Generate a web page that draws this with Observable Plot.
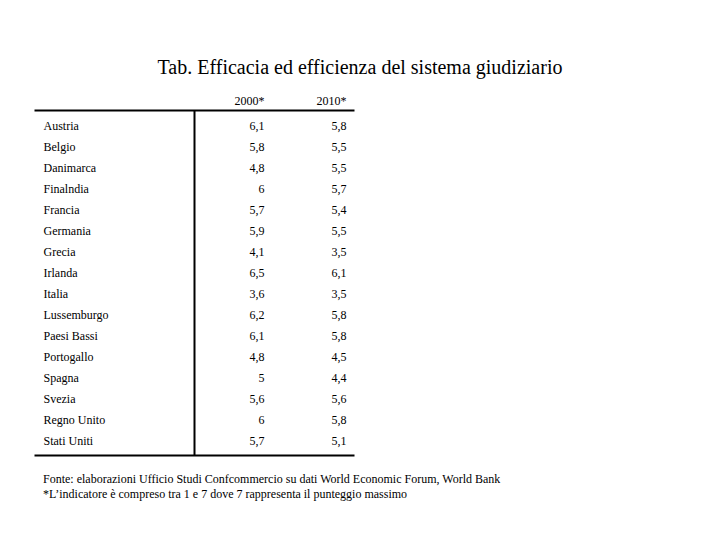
<!DOCTYPE html>
<html><head><meta charset="utf-8">
<script src="https://cdn.jsdelivr.net/npm/d3@7"></script>
<script src="https://cdn.jsdelivr.net/npm/@observablehq/plot@0.6"></script>
<style>
body{margin:0;background:#fff;font-family:"Liberation Serif","Times New Roman",serif;color:#000}
#title{height:33px;padding-top:55px;font-size:20px;line-height:24px;text-align:center}
#foot{padding-top:4px;padding-left:43px;font-size:12px;line-height:15px}
#chart svg{display:block}
</style></head><body>
<div id="title">Tab. Efficacia ed efficienza del sistema giudiziario</div>
<div id="chart"></div>
<div id="foot">Fonte: elaborazioni Ufficio Studi Confcommercio su dati World Economic Forum, World Bank<br>*L’indicatore è compreso tra 1 e 7 dove 7 rappresenta il punteggio massimo</div>
<script>
const countries = ["Austria","Belgio","Danimarca","Finalndia","Francia","Germania","Grecia","Irlanda","Italia","Lussemburgo","Paesi Bassi","Portogallo","Spagna","Svezia","Regno Unito","Stati Uniti"];
const values2000 = [6.1, 5.8, 4.8, 6, 5.7, 5.9, 4.1, 6.5, 3.6, 6.2, 6.1, 4.8, 5, 5.6, 6, 5.7];
const values2010 = [5.8, 5.5, 5.5, 5.7, 5.4, 5.5, 3.5, 6.1, 3.5, 5.8, 5.8, 4.5, 4.4, 5.6, 5.8, 5.1];
const columns = ["2000*", "2010*"];

const rows = countries.flatMap((c, i) => [
  {country: c, col: columns[0], value: values2000[i]},
  {country: c, col: columns[1], value: values2010[i]}
]);
const fmt = v => String(v).replace(".", ",");

const chart = Plot.plot({
  width: 720, height: 380,
  marginTop: 22, marginBottom: 13, marginLeft: 35, marginRight: 367,
  style: {fontFamily: "Liberation Serif", fontSize: "12px", color: "#000", background: "#fff"},
  x: {type: "point", domain: columns, range: [264, 346], padding: 0, axis: null},
  y: {type: "band", domain: countries, padding: 0, axis: null},
  marks: [
    Plot.frame({anchor: "top", strokeWidth: 2, stroke: "#000"}),
    Plot.frame({anchor: "bottom", strokeWidth: 2, stroke: "#000"}),
    Plot.ruleX([null], {x: null, strokeWidth: 2, stroke: "#000"}),
    Plot.text(columns, {x: d => d, frameAnchor: "top", lineAnchor: "middle", dy: -9, textAnchor: "end", fill: "#000"}),
    Plot.text(countries, {y: d => d, frameAnchor: "left", dx: 8, textAnchor: "start", fill: "#000"}),
    Plot.text(rows, {x: "col", y: "country", text: d => fmt(d.value), textAnchor: "end", fill: "#000"})
  ]
});
document.getElementById("chart").appendChild(chart);
</script>
</body></html>
